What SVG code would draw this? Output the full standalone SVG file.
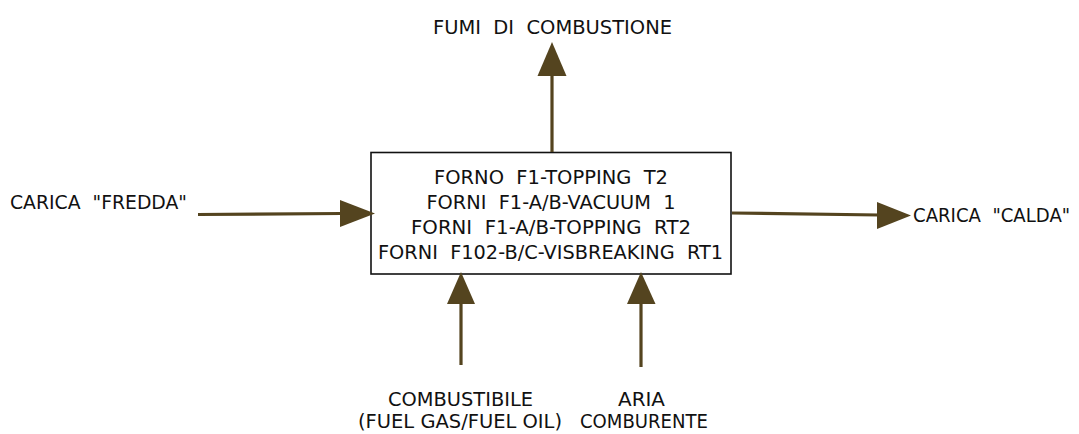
<svg xmlns="http://www.w3.org/2000/svg" width="1079" height="434" viewBox="0 0 1079 434">
  <style>
    text { font-family: "DejaVu Sans", "Liberation Sans", sans-serif; font-size: 20px; fill: #111; white-space: pre; }
    .c { text-anchor: middle; }
    .flow { stroke: #54441f; stroke-width: 3.2; fill: none; }
    .head { fill: #54441f; }
    .box { fill: #fff; stroke: #111; stroke-width: 1.6; }
  </style>

  <!-- furnace block -->
  <g id="forni">
    <rect class="box" x="371" y="152.5" width="360" height="121.5"/>
    <text x="551" y="184" class="c" textLength="234" lengthAdjust="spacingAndGlyphs">FORNO  F1-TOPPING  T2</text>
    <text x="551" y="209" class="c" textLength="249" lengthAdjust="spacingAndGlyphs">FORNI  F1-A/B-VACUUM  1</text>
    <text x="551" y="234" class="c" textLength="280" lengthAdjust="spacingAndGlyphs">FORNI  F1-A/B-TOPPING  RT2</text>
    <text x="550.5" y="259" class="c" textLength="345" lengthAdjust="spacingAndGlyphs">FORNI  F102-B/C-VISBREAKING  RT1</text>
  </g>

  <!-- stream labels -->
  <g id="fumi">
    <text x="433" y="34" textLength="239" lengthAdjust="spacingAndGlyphs">FUMI  DI  COMBUSTIONE</text>
  </g>
  <g id="carica-fredda">
    <text x="10" y="209" textLength="177" lengthAdjust="spacingAndGlyphs">CARICA  "FREDDA"</text>
  </g>
  <g id="carica-calda">
    <text transform="translate(913 222) scale(0.905 1)">CARICA  "CALDA"</text>
  </g>
  <g id="combustibile">
    <text x="460.5" y="406" class="c" textLength="145" lengthAdjust="spacingAndGlyphs">COMBUSTIBILE</text>
    <text x="460" y="428" class="c" textLength="204" lengthAdjust="spacingAndGlyphs">(FUEL GAS/FUEL OIL)</text>
  </g>
  <g id="aria">
    <text x="641.5" y="406" class="c" textLength="47" lengthAdjust="spacingAndGlyphs">ARIA</text>
    <text x="644" y="428" class="c" textLength="128" lengthAdjust="spacingAndGlyphs">COMBURENTE</text>
  </g>

  <!-- flows -->
  <g id="connectors">
    <!-- flue gas out, upward -->
    <line class="flow" x1="552" y1="152" x2="552" y2="74"/>
    <polygon class="head" points="552,42 566.5,76 537.5,76"/>
    <!-- cold feed in -->
    <line class="flow" x1="198" y1="214.5" x2="342" y2="213.5"/>
    <polygon class="head" points="375,213.5 340,200 340,227"/>
    <!-- hot feed out -->
    <line class="flow" x1="732" y1="213" x2="879" y2="215"/>
    <polygon class="head" points="911,215.5 877,202 877,229"/>
    <!-- fuel in -->
    <line class="flow" x1="461" y1="365" x2="461" y2="302"/>
    <polygon class="head" points="461,272 475,304 447,304"/>
    <!-- combustion air in -->
    <line class="flow" x1="641" y1="367" x2="641" y2="302"/>
    <polygon class="head" points="641,272 655.5,304 627,304"/>
  </g>
</svg>
